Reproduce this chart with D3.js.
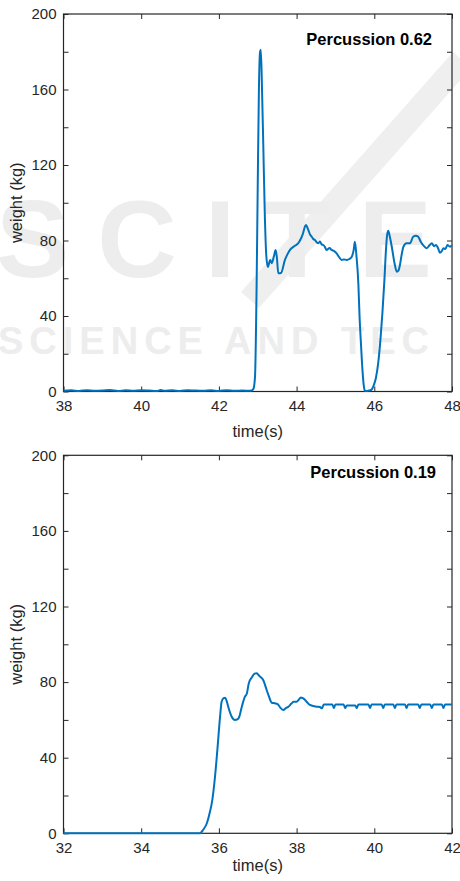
<!DOCTYPE html>
<html>
<head>
<meta charset="utf-8">
<script src="https://cdn.jsdelivr.net/npm/d3@7"></script>
<style>
  html, body { margin: 0; padding: 0; background: #fff; }
  svg { display: block; font-family: "Liberation Sans", Arial, Helvetica, sans-serif; }
</style>
</head>
<body>
<svg id="chart" width="460" height="881"></svg>
<script>
// ---------- data ----------
const xTicksTop = [38, 40, 42, 44, 46, 48];
const xTicksBottom = [32, 34, 36, 38, 40, 42];
const yTickLabels = [0, 40, 80, 120, 160, 200];
const yMinorTicks = [0, 20, 40, 60, 80, 100, 120, 140, 160, 180, 200];
const titles = ["Percussion 0.62", "Percussion 0.19"];

// Panel 1: Percussion 0.62
const time1 = [38.0, 38.2, 38.4, 38.6, 38.8, 39.0, 39.2, 39.4, 39.6, 39.8, 40.0, 40.2, 40.4, 40.5, 40.6, 40.8, 41.0, 41.2, 41.4, 41.6, 41.8, 42.0, 42.2, 42.4, 42.6, 42.8,
  42.84, 42.89, 42.93, 42.97, 43.0, 43.03, 43.06, 43.08, 43.11, 43.14, 43.18, 43.22, 43.26, 43.32, 43.36, 43.42, 43.46, 43.49, 43.53, 43.6, 43.7, 43.76, 43.83, 43.92, 43.98,
  44.04, 44.1, 44.15, 44.24, 44.3, 44.35, 44.39, 44.43, 44.47, 44.52, 44.56, 44.6, 44.65, 44.69, 44.73, 44.77, 44.85, 44.9, 44.96, 45.03, 45.1, 45.16, 45.22, 45.29, 45.36,
  45.42, 45.47, 45.5, 45.54, 45.59, 45.62, 45.66, 45.7, 45.73, 45.76, 45.82, 45.88, 45.93, 45.98, 46.04, 46.1, 46.16, 46.21, 46.26, 46.3, 46.33, 46.36, 46.4, 46.45, 46.52,
  46.58, 46.62, 46.66, 46.7, 46.75, 46.83, 46.92, 47.0, 47.07, 47.13, 47.18, 47.22, 47.28, 47.35, 47.42, 47.48, 47.54, 47.59, 47.64, 47.69, 47.74, 47.78, 47.83, 47.88, 47.95, 48.0];
const weight1 = [0.4, 0.6, 0.3, 0.7, 0.4, 0.5, 0.8, 0.3, 0.6, 0.4, 0.7, 0.5, 0.2, 0.8, 0.4, 0.6, 0.3, 0.7, 0.5, 0.4, 0.6, 0.3, 0.7, 0.4, 0.5, 0.4,
  0.5, 1.5, 8, 55, 110, 160, 180, 181, 160, 133, 95, 72, 66, 69.7, 68, 72, 75, 71.4, 62.6, 62.8, 69.7, 72.5, 75, 76.7, 77.5,
  78.5, 80.5, 82.9, 88.2, 85.6, 83, 82, 80.8, 80.3, 79, 78.5, 79.5, 77.8, 77.6, 76.5, 75, 76, 75, 74.5, 73.2, 71, 69.7, 70, 69.7, 70.2,
  71.4, 75, 79.4, 72, 57, 40, 24, 10, 3, 0.3, 0.3, 0.6, 1, 3, 7, 15, 28, 42, 59, 75, 83, 85.2, 82, 76.7, 68,
  63.5, 64, 67, 72, 76.7, 78.5, 78.5, 82, 82.5, 82, 80, 78.5, 77, 75.9, 77.5, 78.5, 77, 77.6, 76, 73.5, 74.5, 75.9, 75.5, 77.6, 76.7, 77.5];

// Panel 2: Percussion 0.19
const time2 = [32.0, 35.51, 35.6, 35.69, 35.77, 35.83, 35.9, 35.96, 36.03, 36.07, 36.12, 36.16, 36.2, 36.24, 36.33, 36.41, 36.47, 36.52, 36.59, 36.67, 36.72, 36.77, 36.86, 36.92,
  36.97, 37.02, 37.06, 37.14, 37.23, 37.29, 37.36, 37.44, 37.51, 37.58, 37.66, 37.72, 37.79, 37.86, 37.92, 38.0, 38.06, 38.11, 38.16, 38.22, 38.26, 38.34, 38.43, 38.52, 38.6,
  38.65, 38.7, 38.92, 38.96, 39.0, 39.21, 39.25, 39.29, 39.51, 39.55, 39.59, 39.85, 39.89, 39.93, 40.19, 40.23, 40.27, 40.49, 40.53, 40.57, 40.79, 40.83, 40.87,
  41.13, 41.17, 41.21, 41.44, 41.48, 41.52, 41.74, 41.78, 41.82, 42.0];
const weight2 = [0, 0, 2, 5.3, 11.4, 17.6, 30, 44, 61.7, 69.6, 71.5, 71.7, 70, 67, 61.7, 60, 60.2, 61.4, 67, 72.3, 74, 79.4, 82.9, 84.5,
  84.7, 83.8, 82.9, 81.1, 75.8, 72.3, 69.1, 68.8, 68.4, 66.5, 65.2, 66.2, 67, 68.5, 69.6, 69.6, 70.8, 71.9, 71.5, 70.5, 69.6, 67.9, 67.4, 67, 66.8,
  66.1, 68.2, 68.2, 66.3, 68.2, 68.2, 66.3, 67.6, 67.6, 66.3, 68.2, 68.2, 66.3, 68.2, 68.2, 66.3, 68.2, 68.2, 66.3, 68.2, 68.2, 66.3, 68.2,
  68.2, 66.3, 68.2, 68.2, 66.3, 68.2, 68.2, 66.3, 68.2, 68.2];

// ---------- layout ----------
const svg = d3.select("#chart");
const axisColor = "#262626";
const lineColor = "#0072BD";

// watermark (faint, as in the source image)
const wm = svg.append("g").attr("fill", "#ededed").attr("font-weight", "bold");
wm.append("path").attr("d", "M250,300 L462,60").attr("stroke", "#efefef").attr("stroke-width", 24).attr("fill", "none");
wm.append("text").attr("x", -4).attr("y", 277).attr("font-size", 110).attr("letter-spacing", 28).text("SCITE");
wm.append("text").attr("x", -2).attr("y", 354).attr("font-size", 38).attr("letter-spacing", 6).text("SCIENCE AND TEC");

const panels = [
  { top: 14, bottom: 391.5, domain: [38, 48], ticks: xTicksTop, t: time1, w: weight1, title: titles[0], titleX: 432, titleY: 45, labelGap: 45 },
  { top: 455.3, bottom: 833.3, domain: [32, 42], ticks: xTicksBottom, t: time2, w: weight2, title: titles[1], titleX: 436, titleY: 478, labelGap: 38 }
];
const left = 63.5, right = 452;
const tickLen = 5;

panels.forEach(p => {
  const x = d3.scaleLinear().domain(p.domain).range([left, right]);
  const y = d3.scaleLinear().domain([0, 200]).range([p.bottom, p.top]);
  const g = svg.append("g");

  // box
  g.append("rect").attr("x", left).attr("y", p.top).attr("width", right - left).attr("height", p.bottom - p.top)
    .attr("fill", "none").attr("stroke", axisColor).attr("stroke-width", 1.2);

  const xb = g.append("g").attr("transform", `translate(0,${p.bottom})`)
    .call(d3.axisBottom(x).tickValues(p.ticks).tickSizeInner(-tickLen).tickSizeOuter(0).tickPadding(9).tickFormat(d3.format("d")));
  const xt = g.append("g").attr("transform", `translate(0,${p.top})`)
    .call(d3.axisTop(x).tickValues(p.ticks).tickSizeInner(-tickLen).tickSizeOuter(0).tickFormat(""));
  const yl = g.append("g").attr("transform", `translate(${left},0)`)
    .call(d3.axisLeft(y).tickValues(yMinorTicks).tickSizeInner(-tickLen).tickSizeOuter(0).tickPadding(7)
      .tickFormat(d => yTickLabels.includes(d) ? d : ""));
  const yr = g.append("g").attr("transform", `translate(${right},0)`)
    .call(d3.axisRight(y).tickValues(yMinorTicks).tickSizeInner(-tickLen).tickSizeOuter(0).tickFormat(""));

  [xb, xt, yl, yr].forEach(a => {
    a.select(".domain").remove();
    a.selectAll("line").attr("stroke", axisColor).attr("stroke-width", 1);
    a.selectAll("text").attr("fill", axisColor).attr("font-size", 15).attr("font-family", null);
  });
  xb.selectAll("text").attr("dy", "0.71em");

  // labels
  g.append("text").attr("x", (left + right) / 2).attr("y", p.bottom + p.labelGap)
    .attr("text-anchor", "middle").attr("font-size", 16.5).attr("fill", axisColor).text("time(s)");
  g.append("text").attr("transform", `translate(22,${(p.top + p.bottom) / 2}) rotate(-90)`)
    .attr("text-anchor", "middle").attr("font-size", 16.5).attr("fill", axisColor).text("weight (kg)");

  // title
  g.append("text").attr("x", p.titleX).attr("y", p.titleY).attr("text-anchor", "end")
    .attr("font-size", 16.5).attr("font-weight", "bold").attr("fill", "#000").text(p.title);

  // line
  const data = p.t.map((tv, i) => [tv, p.w[i]]);
  g.append("path").datum(data)
    .attr("fill", "none").attr("stroke", lineColor).attr("stroke-width", 2).attr("stroke-linejoin", "round")
    .attr("d", d3.line().x(d => x(d[0])).y(d => y(d[1])).curve(d3.curveMonotoneX));
});
</script>
</body>
</html>
